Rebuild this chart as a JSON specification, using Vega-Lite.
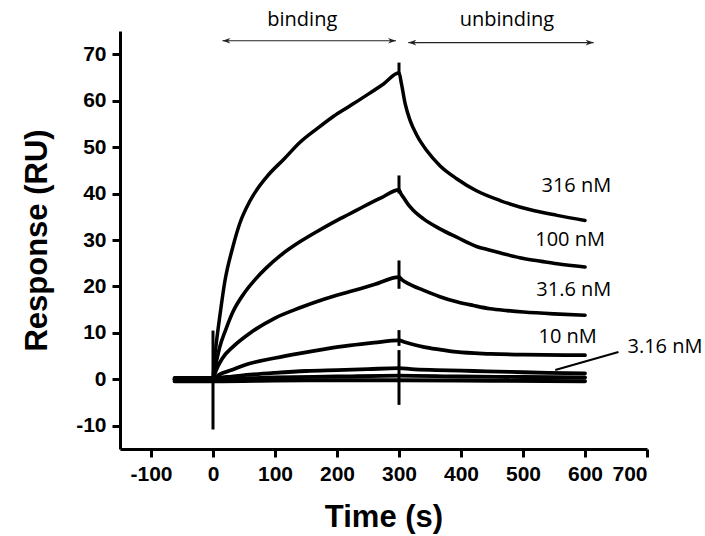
{
  "$schema": "https://vega.github.io/schema/vega-lite/v6.json",
  "width": 527,
  "height": 418,
  "autosize": {"type": "none"},
  "padding": {"left": 120, "top": 31, "right": 58, "bottom": 87},
  "background": "white",
  "config": {
    "view": {"stroke": null},
    "axis": {
      "grid": false,
      "domainColor": "black",
      "domainWidth": 3,
      "tickColor": "black",
      "tickWidth": 3,
      "tickSize": 8,
      "labelFont": "Liberation Sans",
      "labelFontWeight": "bold",
      "labelFontSize": 21,
      "labelColor": "black",
      "labelPadding": 6,
      "labelExpr": "'' + datum.value",
      "titleFont": "Liberation Sans",
      "titleFontWeight": "bold",
      "titleFontSize": 31,
      "titleColor": "black"
    }
  },
  "datasets": {
    "curves": [
      {"series": "316 nM", "t": -62, "v": 0}, {"series": "316 nM", "t": 0, "v": 0}, {"series": "316 nM", "t": 1, "v": 2}, {"series": "316 nM", "t": 2.5, "v": 4.5}, {"series": "316 nM", "t": 5.5, "v": 8}, {"series": "316 nM", "t": 10.8, "v": 13.4}, {"series": "316 nM", "t": 19, "v": 21}, {"series": "316 nM", "t": 32, "v": 28.5}, {"series": "316 nM", "t": 43, "v": 33.5}, {"series": "316 nM", "t": 60, "v": 38.5}, {"series": "316 nM", "t": 86, "v": 43.5}, {"series": "316 nM", "t": 115, "v": 47.5}, {"series": "316 nM", "t": 140, "v": 51}, {"series": "316 nM", "t": 170, "v": 54.2}, {"series": "316 nM", "t": 194, "v": 56.6}, {"series": "316 nM", "t": 220, "v": 58.8}, {"series": "316 nM", "t": 248, "v": 61.2}, {"series": "316 nM", "t": 275, "v": 63.6}, {"series": "316 nM", "t": 300, "v": 66}, {"series": "316 nM", "t": 304, "v": 63.6}, {"series": "316 nM", "t": 310, "v": 59.3}, {"series": "316 nM", "t": 318, "v": 55.7}, {"series": "316 nM", "t": 329, "v": 52.5}, {"series": "316 nM", "t": 345, "v": 49.2}, {"series": "316 nM", "t": 366, "v": 46}, {"series": "316 nM", "t": 393, "v": 43.2}, {"series": "316 nM", "t": 425, "v": 40.6}, {"series": "316 nM", "t": 463, "v": 38.5}, {"series": "316 nM", "t": 512, "v": 36.5}, {"series": "316 nM", "t": 555, "v": 35.3}, {"series": "316 nM", "t": 600, "v": 34.2},
      {"series": "100 nM", "t": -62, "v": 0}, {"series": "100 nM", "t": 0, "v": 0}, {"series": "100 nM", "t": 2, "v": 1.5}, {"series": "100 nM", "t": 5, "v": 3.5}, {"series": "100 nM", "t": 11, "v": 7}, {"series": "100 nM", "t": 20, "v": 10.5}, {"series": "100 nM", "t": 32, "v": 14.5}, {"series": "100 nM", "t": 50, "v": 18.5}, {"series": "100 nM", "t": 70, "v": 21.8}, {"series": "100 nM", "t": 86, "v": 24}, {"series": "100 nM", "t": 110, "v": 26.8}, {"series": "100 nM", "t": 140, "v": 29.6}, {"series": "100 nM", "t": 170, "v": 32}, {"series": "100 nM", "t": 194, "v": 33.8}, {"series": "100 nM", "t": 220, "v": 35.6}, {"series": "100 nM", "t": 240, "v": 37}, {"series": "100 nM", "t": 270, "v": 39}, {"series": "100 nM", "t": 300, "v": 40.8}, {"series": "100 nM", "t": 303, "v": 40}, {"series": "100 nM", "t": 307, "v": 39.2}, {"series": "100 nM", "t": 315, "v": 37.6}, {"series": "100 nM", "t": 323, "v": 36.4}, {"series": "100 nM", "t": 339, "v": 34.6}, {"series": "100 nM", "t": 366, "v": 32.4}, {"series": "100 nM", "t": 393, "v": 30.6}, {"series": "100 nM", "t": 425, "v": 28.6}, {"series": "100 nM", "t": 447, "v": 27.8}, {"series": "100 nM", "t": 475, "v": 26.8}, {"series": "100 nM", "t": 501, "v": 26}, {"series": "100 nM", "t": 530, "v": 25.4}, {"series": "100 nM", "t": 555, "v": 24.9}, {"series": "100 nM", "t": 600, "v": 24.2},
      {"series": "31.6 nM", "t": -62, "v": 0}, {"series": "31.6 nM", "t": 0, "v": 0}, {"series": "31.6 nM", "t": 3, "v": 1.2}, {"series": "31.6 nM", "t": 8, "v": 2.8}, {"series": "31.6 nM", "t": 15, "v": 4.5}, {"series": "31.6 nM", "t": 32, "v": 7}, {"series": "31.6 nM", "t": 60, "v": 10}, {"series": "31.6 nM", "t": 100, "v": 13.2}, {"series": "31.6 nM", "t": 140, "v": 15.4}, {"series": "31.6 nM", "t": 180, "v": 17.3}, {"series": "31.6 nM", "t": 221, "v": 18.9}, {"series": "31.6 nM", "t": 260, "v": 20.4}, {"series": "31.6 nM", "t": 300, "v": 22}, {"series": "31.6 nM", "t": 305, "v": 21.4}, {"series": "31.6 nM", "t": 315, "v": 20.6}, {"series": "31.6 nM", "t": 339, "v": 19.2}, {"series": "31.6 nM", "t": 366, "v": 17.8}, {"series": "31.6 nM", "t": 393, "v": 16.7}, {"series": "31.6 nM", "t": 420, "v": 15.9}, {"series": "31.6 nM", "t": 447, "v": 15.2}, {"series": "31.6 nM", "t": 475, "v": 14.8}, {"series": "31.6 nM", "t": 501, "v": 14.5}, {"series": "31.6 nM", "t": 550, "v": 14.1}, {"series": "31.6 nM", "t": 600, "v": 13.8},
      {"series": "10 nM", "t": -62, "v": 0}, {"series": "10 nM", "t": 0, "v": 0}, {"series": "10 nM", "t": 10, "v": 1}, {"series": "10 nM", "t": 30, "v": 2}, {"series": "10 nM", "t": 59, "v": 3.4}, {"series": "10 nM", "t": 100, "v": 4.6}, {"series": "10 nM", "t": 140, "v": 5.6}, {"series": "10 nM", "t": 180, "v": 6.5}, {"series": "10 nM", "t": 221, "v": 7.3}, {"series": "10 nM", "t": 260, "v": 7.9}, {"series": "10 nM", "t": 300, "v": 8.4}, {"series": "10 nM", "t": 310, "v": 8}, {"series": "10 nM", "t": 339, "v": 7}, {"series": "10 nM", "t": 366, "v": 6.4}, {"series": "10 nM", "t": 393, "v": 5.9}, {"series": "10 nM", "t": 447, "v": 5.5}, {"series": "10 nM", "t": 500, "v": 5.3}, {"series": "10 nM", "t": 600, "v": 5.2},
      {"series": "3.16 nM", "t": -62, "v": 0.3}, {"series": "3.16 nM", "t": 0, "v": 0.3}, {"series": "3.16 nM", "t": 30, "v": 0.6}, {"series": "3.16 nM", "t": 60, "v": 1}, {"series": "3.16 nM", "t": 100, "v": 1.4}, {"series": "3.16 nM", "t": 150, "v": 1.8}, {"series": "3.16 nM", "t": 200, "v": 2}, {"series": "3.16 nM", "t": 250, "v": 2.2}, {"series": "3.16 nM", "t": 300, "v": 2.4}, {"series": "3.16 nM", "t": 320, "v": 2.2}, {"series": "3.16 nM", "t": 360, "v": 2}, {"series": "3.16 nM", "t": 420, "v": 1.8}, {"series": "3.16 nM", "t": 480, "v": 1.6}, {"series": "3.16 nM", "t": 540, "v": 1.4}, {"series": "3.16 nM", "t": 600, "v": 1.3},
      {"series": "1 nM", "t": -62, "v": 0}, {"series": "1 nM", "t": 0, "v": 0}, {"series": "1 nM", "t": 100, "v": 0.4}, {"series": "1 nM", "t": 200, "v": 0.6}, {"series": "1 nM", "t": 300, "v": 0.8}, {"series": "1 nM", "t": 400, "v": 0.6}, {"series": "1 nM", "t": 500, "v": 0.5}, {"series": "1 nM", "t": 600, "v": 0.4},
      {"series": "0.316 nM", "t": -62, "v": -0.4}, {"series": "0.316 nM", "t": 0, "v": -0.4}, {"series": "0.316 nM", "t": 150, "v": -0.2}, {"series": "0.316 nM", "t": 300, "v": -0.2}, {"series": "0.316 nM", "t": 450, "v": -0.3}, {"series": "0.316 nM", "t": 600, "v": -0.4}
    ],
    "spikes": [
      {"t": 0, "lo": -10.8, "hi": 10.5},
      {"t": 300, "lo": -5.5, "hi": 6.3},
      {"t": 300, "lo": 65.5, "hi": 68.2},
      {"t": 300, "lo": 40, "hi": 43.9},
      {"t": 300, "lo": 19.5, "hi": 25.6},
      {"t": 300, "lo": 7.2, "hi": 10.6}
    ],
    "labels": [
      {"label": "316 nM", "t": 586, "v": 41.7},
      {"label": "100 nM", "t": 576, "v": 29.9},
      {"label": "31.6 nM", "t": 582, "v": 19.2},
      {"label": "10 nM", "t": 572, "v": 9.1},
      {"label": "3.16 nM", "t": 729, "v": 7.0}
    ],
    "phases": [
      {"label": "binding", "t": 144, "v": 77.4, "t1": 15.2, "t2": 295, "va": 72.9},
      {"label": "unbinding", "t": 474, "v": 77.4, "t1": 315, "t2": 614, "va": 72.5}
    ],
    "heads": [
      {"dir": "left", "t": 21.6, "v": 72.9},
      {"dir": "right", "t": 288.7, "v": 72.9},
      {"dir": "left", "t": 321.5, "v": 72.5},
      {"dir": "right", "t": 607.4, "v": 72.5}
    ],
    "pointer": [
      {"t": 654, "v": 5.9, "t2": 552, "v2": 2.0}
    ]
  },
  "layer": [
    {
      "data": {"name": "curves"},
      "mark": {"type": "line", "color": "black", "strokeCap": "round", "strokeJoin": "round", "interpolate": "monotone"},
      "encoding": {
        "x": {"field": "t", "type": "quantitative", "scale": {"domain": [-150, 700], "nice": false, "zero": false},
          "axis": {"title": "Time (s)", "values": [-100, 0, 100, 200, 300, 400, 500, 600, 700], "titlePadding": 18}},
        "y": {"field": "v", "type": "quantitative", "scale": {"domain": [-15, 75], "nice": false, "zero": false},
          "axis": {"title": "Response (RU)", "values": [-10, 0, 10, 20, 30, 40, 50, 60, 70], "titlePadding": 22}},
        "detail": {"field": "series"},
        "strokeWidth": {"field": "series", "type": "nominal", "legend": null,
          "scale": {"domain": ["316 nM", "100 nM", "31.6 nM", "10 nM", "3.16 nM", "1 nM", "0.316 nM"], "range": [3.5, 4, 4.5, 4.5, 5, 5, 5]}}
      }
    },
    {
      "data": {"name": "spikes"},
      "mark": {"type": "rule", "color": "black", "strokeWidth": 3},
      "encoding": {
        "x": {"field": "t", "type": "quantitative", "scale": {"domain": [-150, 700], "nice": false, "zero": false}},
        "y": {"field": "lo", "type": "quantitative", "scale": {"domain": [-15, 75], "nice": false, "zero": false}},
        "y2": {"field": "hi"}
      }
    },
    {
      "data": {"name": "labels"},
      "mark": {"type": "text", "font": "Open Sans", "fontSize": 20, "color": "black", "align": "center", "baseline": "middle"},
      "encoding": {
        "x": {"field": "t", "type": "quantitative", "scale": {"domain": [-150, 700], "nice": false, "zero": false}},
        "y": {"field": "v", "type": "quantitative", "scale": {"domain": [-15, 75], "nice": false, "zero": false}},
        "text": {"field": "label"}
      }
    },
    {
      "data": {"name": "phases"},
      "mark": {"type": "text", "font": "Open Sans", "fontSize": 20, "color": "black", "align": "center", "baseline": "middle"},
      "encoding": {
        "x": {"field": "t", "type": "quantitative", "scale": {"domain": [-150, 700], "nice": false, "zero": false}},
        "y": {"field": "v", "type": "quantitative", "scale": {"domain": [-15, 75], "nice": false, "zero": false}},
        "text": {"field": "label"}
      }
    },
    {
      "data": {"name": "phases"},
      "mark": {"type": "rule", "color": "#222", "strokeWidth": 1.2},
      "encoding": {
        "x": {"field": "t1", "type": "quantitative", "scale": {"domain": [-150, 700], "nice": false, "zero": false}},
        "x2": {"field": "t2"},
        "y": {"field": "va", "type": "quantitative", "scale": {"domain": [-15, 75], "nice": false, "zero": false}}
      }
    },
    {
      "data": {"name": "heads"},
      "mark": {"type": "point", "filled": true, "color": "#222", "size": 64, "opacity": 1},
      "encoding": {
        "x": {"field": "t", "type": "quantitative", "scale": {"domain": [-150, 700], "nice": false, "zero": false}},
        "y": {"field": "v", "type": "quantitative", "scale": {"domain": [-15, 75], "nice": false, "zero": false}},
        "shape": {"field": "dir", "type": "nominal", "legend": null,
          "scale": {"domain": ["left", "right"], "range": ["M-1,0L1,-0.7L0.4,0L1,0.7Z", "M1,0L-1,-0.7L-0.4,0L-1,0.7Z"]}}
      }
    },
    {
      "data": {"name": "pointer"},
      "mark": {"type": "rule", "color": "black", "strokeWidth": 2},
      "encoding": {
        "x": {"field": "t", "type": "quantitative", "scale": {"domain": [-150, 700], "nice": false, "zero": false}},
        "y": {"field": "v", "type": "quantitative", "scale": {"domain": [-15, 75], "nice": false, "zero": false}},
        "x2": {"field": "t2"},
        "y2": {"field": "v2"}
      }
    }
  ]
}
